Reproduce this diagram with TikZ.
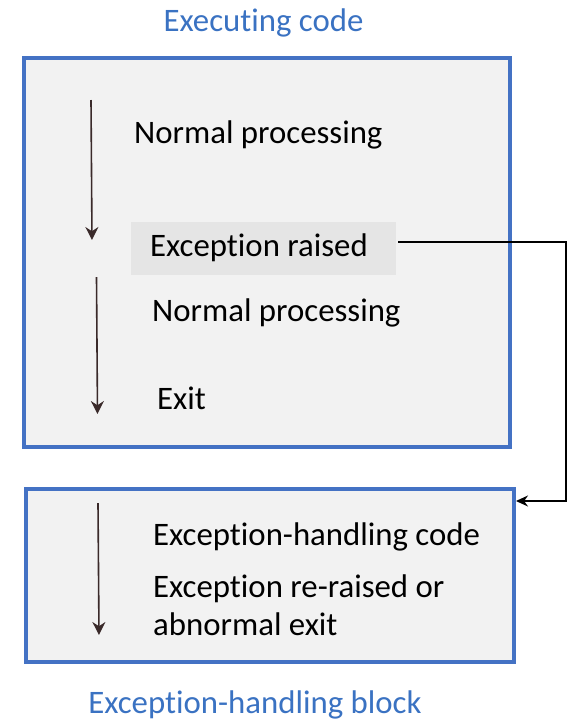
\documentclass[tikz,border=0pt]{standalone}
\usepackage{fontspec}
\setmainfont{Carlito}[Ligatures={NoCommon}]
\usetikzlibrary{arrows.meta}
\definecolor{boxblue}{HTML}{4472C4}
\definecolor{titleblue}{HTML}{3A72C2}
\definecolor{boxfill}{HTML}{F2F2F2}
\definecolor{hilite}{HTML}{E5E5E5}
\definecolor{flowbrown}{HTML}{3A2A2A}
\begin{document}
\begin{tikzpicture}[x=1pt,y=-1pt,
  bigfont/.style={font=\fontsize{32.8}{40}\selectfont},
  frame/.style={draw=boxblue,line width=3.6pt,fill=boxfill},
  title/.style={bigfont,text=titleblue,inner sep=0pt,anchor=center},
  label/.style={bigfont,text=black,inner sep=0pt,anchor=west,align=left},
  flow/.style={draw=flowbrown,line width=1.6pt,-{Stealth[length=13pt,width=13pt]}},
  jump/.style={draw=black,line width=1.3pt,-{Stealth[length=12pt,width=11pt]}}]
\useasboundingbox (0,0) rectangle (569,721);
% boxes
\draw[frame] (24,58) rectangle (510,447);
\draw[frame] (26,489) rectangle (514,662);
\coordinate (b2ne) at (516,501);
% titles
\node[title] (t1) at (263.5,23) {Executing code};
\node[title] (t2) at (255,704.5) {Exception-handling block};
% top box labels
\node[label] (np1) at (134,135) {Normal processing};
\node[fill=hilite,minimum width=265pt,minimum height=53pt,inner sep=0pt,anchor=north west] (exr) at (131,222) {};
\node[label] (exrt) at (150,248) {Exception raised};
\node[label] (np2) at (152,313) {Normal processing};
\node[label] (ex) at (157,398) {Exit};
% bottom box labels
\node[label] (ehc) at (153,537) {Exception-handling code};
\node[label] (err) at (153,589) {Exception re-raised or};
\node[label] (abn) at (153,624) {abnormal exit};
% flow arrows
\coordinate (a1s) at (91,100); \coordinate (a1e) at (92,240);
\coordinate (a2s) at (96.5,277); \coordinate (a2e) at (97.5,414);
\coordinate (a3s) at (98,503); \coordinate (a3e) at (99,635);
\draw[flow] (a1s) -- (a1e);
\draw[flow] (a2s) -- (a2e);
\draw[flow] (a3s) -- (a3e);
% connector
\coordinate (cs) at (398,242);
\draw[jump] (cs) -- (566,242) -- (566,501) -- (b2ne);
\end{tikzpicture}
\end{document}
